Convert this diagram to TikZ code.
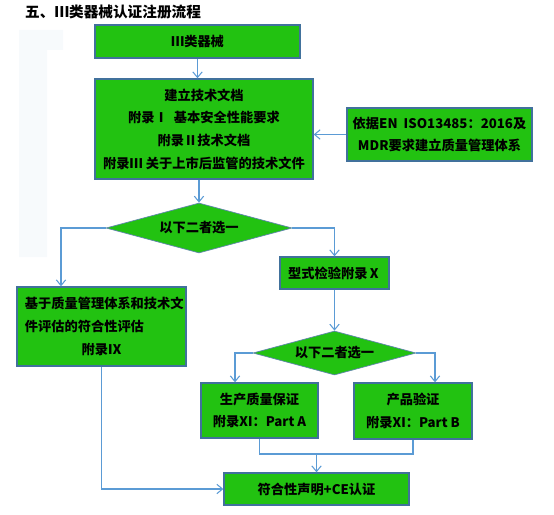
\documentclass[tikz,border=0pt]{standalone}
\usepackage{fontspec}
\newfontfamily\cjk{Noto Sans CJK SC}
\usepackage{tikz}
\usetikzlibrary{arrows.meta,positioning,calc,shapes.geometric}
\definecolor{boxgreen}{RGB}{34,194,17}
\definecolor{boxedge}{RGB}{65,113,156}
\definecolor{linkblue}{RGB}{91,155,213}
\definecolor{ghostgray}{RGB}{247,250,252}
\tikzset{
  stepbox/.style={rectangle,draw=boxedge,line width=1.1pt,fill=boxgreen,inner sep=0pt,align=center,
    font=\cjk\bfseries\fontsize{11.3}{19.4}\selectfont},
  choice/.style={diamond,draw=boxedge!85,line width=.6pt,fill=boxgreen,inner sep=0pt,aspect=3.7,
    font=\cjk\bfseries\fontsize{11.3}{13}\selectfont},
  flow/.style={-{Straight Barb[length=1.7mm,width=2.8mm]},draw=linkblue,line width=.9pt},
  link/.style={draw=linkblue,line width=.9pt}
}

\begin{document}
\begin{tikzpicture}[
  headline/.style={font=\cjk\bfseries\fontsize{12.5}{15}\selectfont,anchor=west,inner sep=0pt},
  ghost/.style={fill=ghostgray,draw=none}
]
  \useasboundingbox (0,0) rectangle (16.62,-15.45);

  \fill[ghost] (0.57,-0.90) -- (1.89,-0.90) -- (1.89,-1.50) -- (1.41,-1.50)
    -- (1.41,-7.71) -- (0.57,-7.71) -- cycle;

  \node[headline] (head) at (0.75,-0.36) {五、Ⅲ类器械认证注册流程};

  % upper part
  \node[stepbox,minimum width=6.15cm,minimum height=0.99cm] (cls) at (5.925,-1.245)
    {Ⅲ类器械};
  \node[stepbox,minimum width=6.54cm,minimum height=3.0cm] (doc) at (6.12,-3.87)
    {建立技术文档\\附录Ⅰ\ \ 基本安全性能要求\\附录Ⅱ技术文档\\附录Ⅲ 关于上市后监管的技术文件};
  \node[stepbox,minimum width=5.55cm,minimum height=1.59cm] (qms) at (13.185,-4.035)
    {依据EN\ \ ISO13485：2016及\\MDR要求建立质量管理体系};

  \node[choice,minimum width=5.58cm,minimum height=1.5cm] (pickA) at (5.97,-6.84)
    {以下二者选一};

  % left branch
  \node[stepbox,minimum width=5.07cm,minimum height=2.37cm,text width=4.6cm,align=left] (annIX)
    at (3.045,-9.795)
    {基于质量管理体系和技术文\\件评估的符合性评估\\\makebox[\linewidth][c]{附录Ⅸ}};

  % right branch
  \node[stepbox,minimum width=3.27cm,minimum height=0.96cm] (typeX) at (10.035,-8.19)
    {型式检验附录Ⅹ};
  \node[choice,minimum width=4.89cm,minimum height=1.32cm] (pickB) at (10.035,-10.59)
    {以下二者选一};
  \node[stepbox,minimum width=3.51cm,minimum height=1.65cm] (prodQA) at (7.785,-12.315)
    {生产质量保证\\附录Ⅺ：Part A};
  \node[stepbox,minimum width=3.54cm,minimum height=1.68cm] (prodV) at (12.39,-12.33)
    {产品验证\\附录Ⅺ：Part B};

  \node[stepbox,minimum width=5.55cm,minimum height=0.96cm] (ce) at (9.495,-14.67)
    {符合性声明+CE认证};

  % connectors
  \coordinate (turnL) at (1.83,-6.84);
  \coordinate (turnB) at (7.05,-10.59);
  \coordinate (turnC) at (13.05,-10.59);
  \coordinate (joinY) at (9.495,-13.62);

  \draw[flow] (cls.south) -- (cls.south |- doc.north);
  \draw[flow] (qms.west) -- (qms.west -| doc.east);
  \draw[flow] (pickA.north |- doc.south) -- (pickA.north);
  \draw[flow] (pickA.west) -- (turnL) -- (turnL |- annIX.north);
  \draw[flow] (pickA.east) -| (typeX.north);
  \draw[flow] (typeX.south) -- (pickB.north);
  \draw[flow] (pickB.west) -- (turnB) -- (turnB |- prodQA.north);
  \draw[flow] (pickB.east) -- (turnC) -- (turnC |- prodV.north);
  \draw[link] (prodQA.south) -- (prodQA.south |- joinY) -- (prodV.south |- joinY) -- (prodV.south);
  \draw[flow] (joinY) -- (ce.north);
  \draw[flow] (annIX.south) |- (ce.west);

\end{tikzpicture}
\end{document}
